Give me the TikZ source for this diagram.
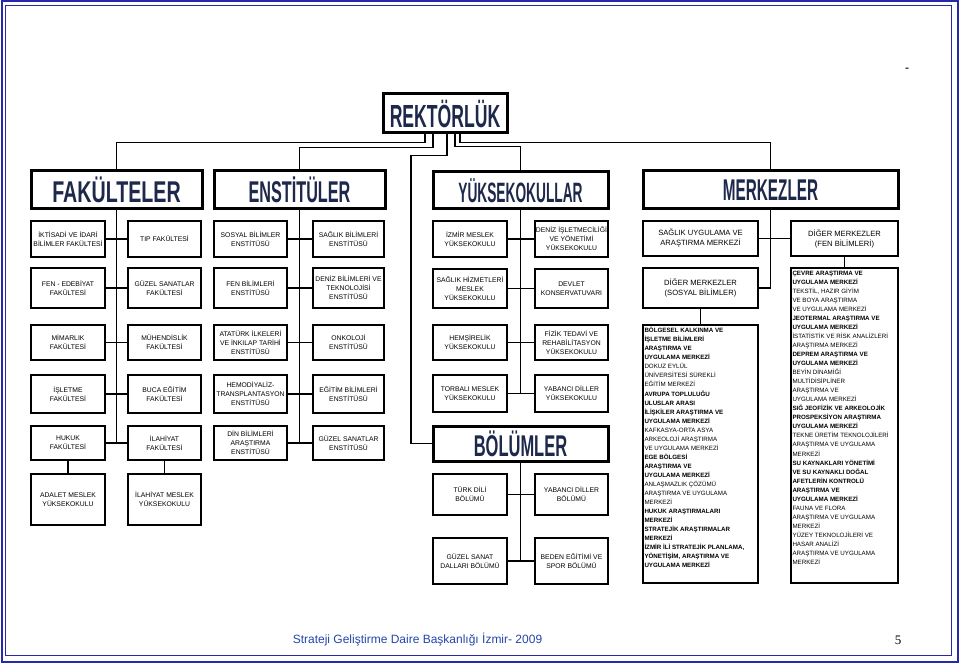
\documentclass[tikz,border=0pt]{standalone}
\usepackage{fontspec}
\usepackage{graphicx}
\setmainfont{Liberation Sans}
\newfontfamily\serifnum{Liberation Serif}
\usetikzlibrary{calc}
\definecolor{framec}{RGB}{40,40,170}
\definecolor{headc}{RGB}{30,40,75}
\definecolor{footc}{RGB}{35,70,170}
\newcommand\smallf{\fontsize{6.8}{9}\selectfont}
\newcommand\midf{\fontsize{7.6}{10}\selectfont}
\newcommand\listf{\fontsize{6.2}{9.05}\selectfont}
\newcommand\hd[3]{\scalebox{#1}[1]{\fontsize{#2}{#2}\selectfont\bfseries #3}}
\tikzset{
 ubox/.style={draw, line width=2pt, fill=white, inner sep=0pt, align=center, font=\smallf},
 hbox/.style={line width=3pt, text=headc},
 conn/.style={line width=1.2pt},
}
\newcommand\B[7][]{\node[ubox,#1,minimum width={#5-#3},minimum height={#6-#4}] (#2) at ({(#3+#5)/2},{(#4+#6)/2}) {#7};}
\begin{document}
\begin{tikzpicture}[x=1pt,y=-1pt]
\useasboundingbox (0,0) rectangle (959,663);
\fill[white] (0,0) rectangle (959,663);
% page frame
\draw[framec, line width=2pt] (1.5,1.5) rectangle (957.5,661.5);
\draw[framec, line width=1.3pt] (5.8,5.8) rectangle (951.2,655.5);
\node[font=\serifnum\fontsize{12}{12}\selectfont\bfseries] (dash) at (907,70) {-};

% headings
\B[hbox]{rek}{383}{94}{507}{133}{\hd{0.55}{32}{REKTÖRLÜK}}
\B[hbox]{fak}{31}{171}{202}{209}{\hd{0.655}{30}{FAKÜLTELER}}
\B[hbox]{ens}{214}{171}{385}{209}{\hd{0.54}{30}{ENSTİTÜLER}}
\B[hbox]{yuk}{433}{172}{608}{209}{\hd{0.49}{28}{YÜKSEKOKULLAR}}
\B[hbox]{mer}{643}{171}{898}{209}{\hd{0.51}{30}{MERKEZLER}}
\B[hbox]{bol}{433}{426}{608}{461}{\hd{0.55}{30}{BÖLÜMLER}}

% connectors from rektorluk
\draw[conn] ([xshift=-20pt]rek.south) -- ++(0,8) -| (fak.north);
\draw[conn] ([xshift=-12pt]rek.south) -- ++(0,13) -| (ens.north);
\draw[conn] ([xshift=2pt]rek.south) -- ++(0,21) -- ++(-36,0) |- (bol.west);
\draw[conn] ([xshift=10pt]rek.south) -- ++(0,12) -| (yuk.north);
\draw[conn] ([xshift=15pt]rek.south) -- ++(0,8) -| (mer.north);

% FAKULTELER
\B{f1l}{31}{221}{105}{257}{İKTİSADİ VE İDARİ\\BİLİMLER FAKÜLTESİ}
\B{f1r}{128}{221}{201}{257}{TIP FAKÜLTESİ}
\B{f2l}{31}{268}{105}{308}{FEN - EDEBİYAT\\FAKÜLTESİ}
\B{f2r}{128}{268}{201}{308}{GÜZEL SANATLAR\\FAKÜLTESİ}
\B{f3l}{31}{325}{105}{360}{MİMARLIK\\FAKÜLTESİ}
\B{f3r}{128}{325}{201}{360}{MÜHENDİSLİK\\FAKÜLTESİ}
\B{f4l}{31}{375}{105}{413}{İŞLETME\\FAKÜLTESİ}
\B{f4r}{128}{375}{201}{413}{BUCA EĞİTİM\\FAKÜLTESİ}
\B{f5l}{31}{426}{105}{460}{HUKUK\\FAKÜLTESİ}
\B{f5r}{128}{426}{201}{460}{İLAHİYAT\\FAKÜLTESİ}
\B{f6l}{31}{474}{105}{525}{ADALET MESLEK\\YÜKSEKOKULU}
\B{f6r}{128}{474}{201}{525}{İLAHİYAT MESLEK\\YÜKSEKOKULU}
\draw[conn] (fak.south) -- (fak.south |- f5l.east);
\foreach \r in {1,...,5}{\draw[conn] (f\r l.east) -- (f\r r.west);}
\draw[conn] (f5l.south) -- (f6l.north);
\draw[conn] (f5r.south) -- (f6r.north);

% ENSTITULER
\B{e1l}{214}{221}{287}{257}{SOSYAL BİLİMLER\\ENSTİTÜSÜ}
\B{e1r}{313}{221}{384}{257}{SAĞLIK BİLİMLERİ\\ENSTİTÜSÜ}
\B{e2l}{214}{268}{287}{308}{FEN BİLİMLERİ\\ENSTİTÜSÜ}
\B{e2r}{313}{268}{384}{308}{DENİZ BİLİMLERİ VE\\TEKNOLOJİSİ\\ENSTİTÜSÜ}
\B{e3l}{214}{325}{287}{360}{ATATÜRK İLKELERİ\\VE İNKILAP TARİHİ\\ENSTİTÜSÜ}
\B{e3r}{313}{325}{384}{360}{ONKOLOJİ\\ENSTİTÜSÜ}
\B{e4l}{214}{375}{287}{413}{HEMODİYALİZ-\\TRANSPLANTASYON\\ENSTİTÜSÜ}
\B{e4r}{313}{375}{384}{413}{EĞİTİM BİLİMLERİ\\ENSTİTÜSÜ}
\B{e5l}{214}{426}{287}{460}{DİN BİLİMLERİ\\ARAŞTIRMA\\ENSTİTÜSÜ}
\B{e5r}{313}{426}{384}{460}{GÜZEL SANATLAR\\ENSTİTÜSÜ}
\draw[conn] (ens.south) -- (ens.south |- e5l.east);
\foreach \r in {1,...,5}{\draw[conn] (e\r l.east) -- (e\r r.west);}

% YUKSEKOKULLAR
\B{y1l}{433}{221}{507}{257}{İZMİR MESLEK\\YÜKSEKOKULU}
\B{y1r}{535}{221}{608}{257}{DENİZ İŞLETMECİLİĞİ\\VE YÖNETİMİ\\YÜKSEKOKULU}
\B{y2l}{433}{269}{507}{308}{SAĞLIK HİZMETLERİ\\MESLEK\\YÜKSEKOKULU}
\B{y2r}{535}{269}{608}{308}{DEVLET\\KONSERVATUVARI}
\B{y3l}{433}{325}{507}{360}{HEMŞİRELİK\\YÜKSEKOKULU}
\B{y3r}{535}{325}{608}{360}{FİZİK TEDAVİ VE\\REHABİLİTASYON\\YÜKSEKOKULU}
\B{y4l}{433}{375}{507}{412}{TORBALI MESLEK\\YÜKSEKOKULU}
\B{y4r}{535}{375}{608}{412}{YABANCI DİLLER\\YÜKSEKOKULU}
\B{y5l}{433}{474}{507}{515}{TÜRK DİLİ\\BÖLÜMÜ}
\B{y5r}{535}{474}{608}{515}{YABANCI DİLLER\\BÖLÜMÜ}
\B{y6l}{433}{538}{507}{584}{GÜZEL SANAT\\DALLARI BÖLÜMÜ}
\B{y6r}{535}{538}{608}{584}{BEDEN EĞİTİMİ VE\\SPOR BÖLÜMÜ}
\draw[conn] (yuk.south) -- (yuk.south |- y4l.east);
\foreach \r in {1,...,6}{\draw[conn] (y\r l.east) -- (y\r r.west);}
\draw[conn] (bol.south) -- (bol.south |- y6l.east);

% MERKEZLER
\B[font=\midf]{m1l}{643}{221}{758}{256}{SAĞLIK UYGULAMA VE\\ARAŞTIRMA MERKEZİ}
\B[font=\midf]{m1r}{791}{221}{898}{256}{DİĞER MERKEZLER\\(FEN BİLİMLERİ)}
\B[font=\midf]{m2}{643}{268}{758}{308}{DİĞER MERKEZLER\\(SOSYAL BİLİMLER)}
\B{listL}{643}{325}{758}{583}{}
\B{listR}{791}{268}{898}{583}{}
\draw[conn] (mer.south) -- (mer.south |- m2.east);
\draw[conn] (m1l.east) -- (m1r.west);
\draw[conn] (m2.east) -- (mer.south |- m2.east);
\draw[conn] (m1r.south) -- (listR.north);
\draw[conn] (m2.south) -- (listL.north);

\node[anchor=north west, inner sep=0pt, align=left, font=\listf] (listLt) at ([shift={(2.3,3.2)}]listL.north west) {%
\textbf{BÖLGESEL KALKINMA VE}\\
\textbf{İŞLETME BİLİMLERİ}\\
\textbf{ARAŞTIRMA VE}\\
\textbf{UYGULAMA MERKEZİ}\\
DOKUZ EYLÜL\\
ÜNİVERSİTESİ SÜREKLİ\\
EĞİTİM MERKEZİ\\
\textbf{AVRUPA TOPLULUĞU}\\
\textbf{ULUSLAR ARASI}\\
\textbf{İLİŞKİLER ARAŞTIRMA VE}\\
\textbf{UYGULAMA MERKEZİ}\\
KAFKASYA-ORTA ASYA\\
ARKEOLOJİ ARAŞTIRMA\\
VE UYGULAMA MERKEZİ\\
\textbf{EGE BÖLGESİ}\\
\textbf{ARAŞTIRMA VE}\\
\textbf{UYGULAMA MERKEZİ}\\
ANLAŞMAZLIK ÇÖZÜMÜ\\
ARAŞTIRMA VE UYGULAMA\\
MERKEZİ\\
\textbf{HUKUK ARAŞTIRMALARI}\\
\textbf{MERKEZİ}\\
\textbf{STRATEJİK ARAŞTIRMALAR}\\
\textbf{MERKEZİ}\\
\textbf{İZMİR İLİ STRATEJİK PLANLAMA,}\\
\textbf{YÖNETİŞİM, ARAŞTIRMA VE}\\
\textbf{UYGULAMA MERKEZİ}};

\node[anchor=north west, inner sep=0pt, align=left, font=\listf] (listRt) at ([shift={(2.3,3.5)}]listR.north west) {%
\textbf{ÇEVRE ARAŞTIRMA VE}\\
\textbf{UYGULAMA MERKEZİ}\\
TEKSTİL, HAZIR GİYİM\\
VE BOYA ARAŞTIRMA\\
VE UYGULAMA MERKEZİ\\
\textbf{JEOTERMAL ARAŞTIRMA VE}\\
\textbf{UYGULAMA MERKEZİ}\\
İSTATİSTİK VE RİSK ANALİZLERİ\\
ARAŞTIRMA MERKEZİ\\
\textbf{DEPREM ARAŞTIRMA VE}\\
\textbf{UYGULAMA MERKEZİ}\\
BEYİN DİNAMİĞİ\\
MULTİDİSİPLİNER\\
ARAŞTIRMA VE\\
UYGULAMA MERKEZİ\\
\textbf{SIĞ JEOFİZİK VE ARKEOLOJİK}\\
\textbf{PROSPEKSİYON ARAŞTIRMA}\\
\textbf{UYGULAMA MERKEZİ}\\
TEKNE ÜRETİM TEKNOLOJİLERİ\\
ARAŞTIRMA VE UYGULAMA\\
MERKEZİ\\
\textbf{SU KAYNAKLARI YÖNETİMİ}\\
\textbf{VE SU KAYNAKLI DOĞAL}\\
\textbf{AFETLERİN KONTROLÜ}\\
\textbf{ARAŞTIRMA VE}\\
\textbf{UYGULAMA MERKEZİ}\\
FAUNA VE FLORA\\
ARAŞTIRMA VE UYGULAMA\\
MERKEZİ\\
YÜZEY TEKNOLOJİLERİ VE\\
HASAR ANALİZİ\\
ARAŞTIRMA VE UYGULAMA\\
MERKEZİ};

% footer
\node[text=footc, font=\fontsize{12}{12}\selectfont] (foot) at (417.5,640) {Strateji Geliştirme Daire Başkanlığı İzmir- 2009};
\node[font=\serifnum\fontsize{13}{13}\selectfont] (pnum) at (898,640) {5};
\end{tikzpicture}
\end{document}
